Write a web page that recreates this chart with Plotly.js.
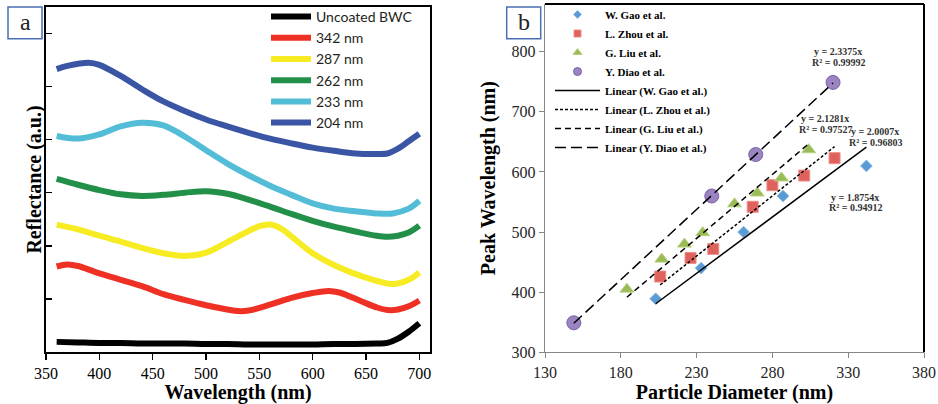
<!DOCTYPE html>
<html><head><meta charset="utf-8">
<script src="https://cdn.plot.ly/plotly-3.0.1.min.js"></script>
<style>html,body{margin:0;padding:0;background:#fff}#chart{width:938px;height:404px}</style>
</head><body><div id="chart"></div>
<script>
// ---------- Panel a: reflectance spectra ----------
const seriesNamesA = ["Uncoated BWC", "342 nm", "287 nm", "262 nm", "233 nm", "204 nm"];
const wlBlack = [360,380,400,420,440,460,480,500,520,540,560,580,600,620,640,660,670,680,690,700];
const rBlack  = [0.19,0.18,0.17,0.17,0.16,0.16,0.16,0.15,0.15,0.14,0.14,0.14,0.14,0.15,0.15,0.16,0.17,0.25,0.38,0.54];
const wlRed = [360,370,380,400,420,440,460,480,500,520,530,540,560,580,600,615,625,645,660,670,680,690,700];
const rRed  = [1.61,1.65,1.62,1.48,1.36,1.24,1.09,0.98,0.88,0.80,0.77,0.78,0.89,1.02,1.11,1.15,1.12,0.96,0.84,0.79,0.80,0.86,0.97];
const wlYellow = [360,380,400,420,440,460,480,500,520,540,550,560,570,580,600,625,650,675,690,700];
const rYellow  = [2.40,2.31,2.19,2.08,1.96,1.86,1.81,1.87,2.07,2.28,2.37,2.40,2.33,2.18,1.86,1.59,1.40,1.28,1.36,1.50];
const wlGreen = [360,380,400,420,440,460,480,500,520,540,560,580,600,620,640,660,670,680,690,700];
const rGreen  = [3.26,3.15,3.05,2.97,2.94,2.96,3.00,3.03,2.98,2.87,2.74,2.60,2.47,2.36,2.27,2.19,2.17,2.19,2.25,2.38];
const wlCyan = [360,380,400,420,440,460,480,500,520,540,560,580,600,620,640,660,675,690,700];
const rCyan  = [4.07,4.02,4.10,4.25,4.32,4.27,4.06,3.80,3.55,3.33,3.13,2.96,2.80,2.70,2.65,2.61,2.61,2.70,2.85];
const wlNavy = [360,370,390,400,420,440,460,480,500,520,540,560,580,600,620,640,660,670,680,690,700];
const rNavy  = [5.33,5.39,5.45,5.41,5.20,4.95,4.72,4.54,4.38,4.25,4.13,4.02,3.93,3.85,3.79,3.74,3.73,3.74,3.83,3.97,4.11];
const wlTicks = [350,400,450,500,550,600,650,700];

// ---------- Panel b: peak wavelength vs particle diameter ----------
const gaoD  = [203,233,261,287,342];
const gaoP  = [389,440,500,560,610];
const zhouD = [206,226,241,267,280,301,321];
const zhouP = [426,457,472,542,578,594,623];
const liuD  = [184,207,222,234,255,270,286,304];
const liuP  = [405,455,480,499,547,565,590,637];
const diaoD = [149,240,269,320];
const diaoP = [349,560,629,749];
const slopes = [1.8754, 2.0007, 2.1281, 2.3375];
const r2vals = ["0.94912", "0.96803", "0.97527", "0.99992"];
const studyNames = ["W. Gao et al.", "L. Zhou et al.", "G. Liu et al.", "Y. Diao et al."];
const diamTicks = [130,180,230,280,330,380];
const peakTicks = [300,400,500,600,700,800];

const W = 938, H = 404;
const X = px => px / W;
const Y = py => 1 - py / H;

const colorsA = ["#000000", "#ee3124", "#f7ec23", "#229048", "#53bcd6", "#3a55a4"];
const wlSets = [wlBlack, wlRed, wlYellow, wlGreen, wlCyan, wlNavy];
const rSets = [rBlack, rRed, rYellow, rGreen, rCyan, rNavy];

const traces = [];
for (let i = 0; i < 6; i++) {
  traces.push({
    x: wlSets[i], y: rSets[i], type: "scatter", mode: "lines", name: seriesNamesA[i],
    xaxis: "x", yaxis: "y", legend: "legend",
    line: {color: colorsA[i], width: 6, shape: "spline", smoothing: 1}
  });
}

const dSets = [gaoD, zhouD, liuD, diaoD];
const pSets = [gaoP, zhouP, liuP, diaoP];
const markerStyles = [
  {symbol: "diamond", size: 9, color: "#5b9bd5", line: {color: "#86b6e3", width: 1}},
  {symbol: "square", size: 11, color: "#e0625d", line: {color: "#eb8f8a", width: 1}},
  {symbol: "triangle-up", size: 12, color: "#9bbb59", line: {color: "#b8d27f", width: 1}},
  {symbol: "circle", size: 14, color: "#9a84c2", line: {color: "#7b63a6", width: 1}}
];
const legendMarkerSizes = [6, 7, 8, 8];
for (let i = 0; i < 4; i++) {
  traces.push({
    x: dSets[i], y: pSets[i], type: "scatter", mode: "markers", name: studyNames[i],
    xaxis: "x2", yaxis: "y2", showlegend: false, marker: markerStyles[i]
  });
}
// legend-only entries (smaller symbols, as in the original key)
for (let i = 0; i < 4; i++) {
  traces.push({
    x: [null], y: [null], type: "scatter", mode: "markers", name: studyNames[i],
    xaxis: "x2", yaxis: "y2", legend: "legend2",
    marker: Object.assign({}, markerStyles[i], {size: legendMarkerSizes[i]})
  });
}
const dashes = ["solid", "3px,2px", "6px,4px", "11px,5px"];
for (let i = 0; i < 4; i++) {
  const xs = [Math.min(...dSets[i]), Math.max(...dSets[i])];
  traces.push({
    x: xs, y: xs.map(v => v * slopes[i]), type: "scatter", mode: "lines",
    name: "Linear (" + studyNames[i] + ")",
    xaxis: "x2", yaxis: "y2", legend: "legend2",
    line: {color: "#000000", width: 1.5, dash: dashes[i]}
  });
}

// trendline label anchors (data coords of panel b)
const eqPos = [[334.5, 557, 540.5], [347.7, 667.5, 649.3], [314.7, 689, 671], [323.3, 800, 782]];
const annotations = [];
for (let i = 0; i < 4; i++) {
  const f = {family: "Liberation Serif", size: 10, color: "#333333", weight: 700};
  annotations.push({xref: "x2", yref: "y2", x: eqPos[i][0], y: eqPos[i][1], text: "y = " + slopes[i].toFixed(4) + "x",
    showarrow: false, font: f, xanchor: "center", yanchor: "middle"});
  annotations.push({xref: "x2", yref: "y2", x: eqPos[i][0], y: eqPos[i][2], text: "R² = " + r2vals[i],
    showarrow: false, font: f, xanchor: "center", yanchor: "middle"});
}
annotations.push({xref: "paper", yref: "paper", x: X(25), y: Y(20), text: "a", showarrow: false,
  font: {family: "Liberation Serif", size: 24, color: "#222"}, xanchor: "center", yanchor: "middle"});
annotations.push({xref: "paper", yref: "paper", x: X(523.7), y: Y(20), text: "b", showarrow: false,
  font: {family: "Liberation Serif", size: 24, color: "#222"}, xanchor: "center", yanchor: "middle"});

const titleFont = {family: "Liberation Serif", size: 20, color: "#000", weight: 700};
annotations.push({xref: "paper", yref: "paper", x: X(35), y: Y(178.5), text: "Reflectance (a.u.)", showarrow: false,
  textangle: -90, font: titleFont, xanchor: "center", yanchor: "middle"});
const tickFontA = {family: "Liberation Serif", size: 16, color: "#000"};
const tickFontB = {family: "Liberation Serif", size: 16, color: "#262626"};

const layout = {
  width: W, height: H, margin: {l: 0, r: 0, t: 0, b: 0},
  paper_bgcolor: "#fff", plot_bgcolor: "#fff",
  showlegend: true,
  xaxis: {domain: [X(46), X(430)], range: [350, 710], anchor: "y", tickvals: wlTicks,
    ticks: "outside", ticklen: 6, tickwidth: 1.5, tickcolor: "#000",
    showline: true, linecolor: "#000", linewidth: 2, mirror: true, showgrid: false, zeroline: false,
    tickfont: tickFontA, title: {text: "Wavelength (nm)", font: titleFont, standoff: 4}},
  yaxis: {domain: [Y(351.7), Y(5)], range: [0, 6.5], anchor: "x", tickvals: [1,2,3,4,5,6],
    ticks: "inside", ticklen: 6, tickwidth: 1.5, tickcolor: "#000", showticklabels: false,
    showline: true, linecolor: "#000", linewidth: 2, mirror: true, showgrid: false, zeroline: false},
  xaxis2: {domain: [X(545), X(924)], range: [130, 380], anchor: "y2", tickvals: diamTicks,
    ticks: "outside", ticklen: 5, tickwidth: 1, tickcolor: "#868686",
    showline: true, linecolor: "#868686", linewidth: 1.2, showgrid: false, zeroline: false,
    tickfont: tickFontB, title: {text: "Particle Diameter (nm)", font: titleFont, standoff: 4}},
  yaxis2: {domain: [Y(352), Y(2)], range: [300, 879.5], anchor: "x2", tickvals: peakTicks,
    ticks: "outside", ticklen: 5, tickwidth: 1, tickcolor: "#868686",
    showline: true, linecolor: "#868686", linewidth: 1.2, showgrid: false, zeroline: false,
    tickfont: tickFontB, title: {text: "Peak Wavelength (nm)", font: titleFont, standoff: 10}},
  legend: {x: X(266), y: Y(-1), xanchor: "left", yanchor: "top", bgcolor: "rgba(0,0,0,0)",
    font: {family: "Lato", size: 14, color: "#231f20"}, itemwidth: 40, tracegroupgap: 0},
  legend2: {x: X(550), y: Y(-2), xanchor: "left", yanchor: "top", bgcolor: "rgba(0,0,0,0)",
    font: {family: "Liberation Serif", size: 11, color: "#000", weight: 700}, itemwidth: 45, tracegroupgap: 0},
  shapes: [
    {type: "line", xref: "x2 domain", yref: "y2 domain", x0: 0, x1: 1, y0: 1, y1: 1, line: {color: "#000", width: 2}},
    {type: "line", xref: "x2 domain", yref: "y2 domain", x0: 1, x1: 1, y0: 0, y1: 1, line: {color: "#000", width: 2}},
    {type: "rect", xref: "paper", yref: "paper", x0: X(8), x1: X(42), y0: Y(37), y1: Y(5), line: {color: "#4a6fb3", width: 1.5}},
    {type: "rect", xref: "paper", yref: "paper", x0: X(506.7), x1: X(540.7), y0: Y(37), y1: Y(5), line: {color: "#4a6fb3", width: 1.5}}
  ],
  annotations: annotations
};

Plotly.newPlot("chart", traces, layout, {staticPlot: true, displayModeBar: false});
</script></body></html>
